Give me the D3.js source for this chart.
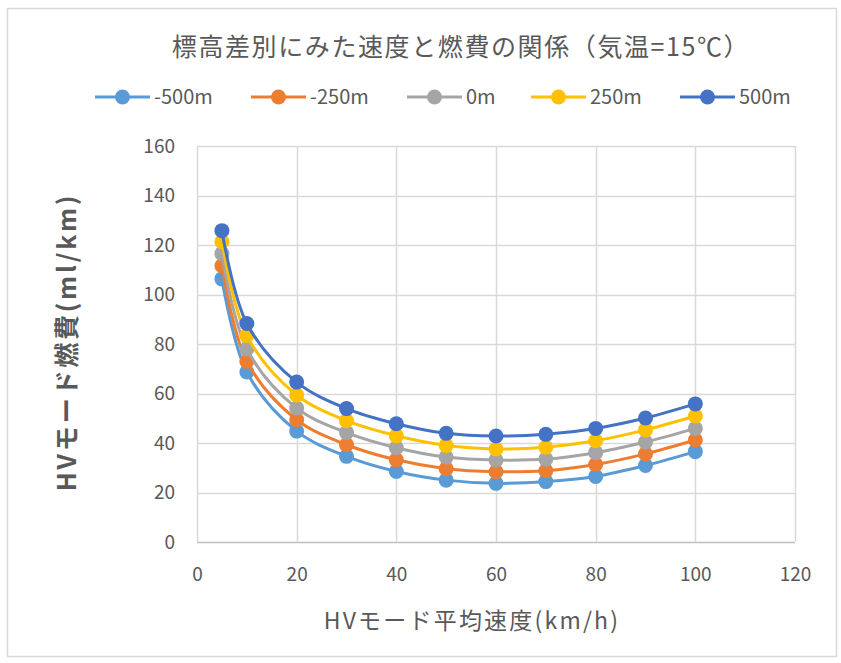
<!DOCTYPE html>
<html>
<head>
<meta charset="utf-8">
<script src="https://cdn.jsdelivr.net/npm/d3@7"></script>
<style>
  html, body { margin: 0; padding: 0; background: #fff; }
  svg { display: block; }
  text { font-family: "Liberation Sans Narrow", "Noto Sans CJK JP", sans-serif; fill: #595959; }
</style>
</head>
<body>
<svg id="chart" width="841" height="663"></svg>
<script>
// Average speed (km/h) at which fuel use was evaluated
const speeds = [5, 10, 20, 30, 40, 50, 60, 70, 80, 90, 100];

// Fuel consumption (ml/km) for each elevation difference
const seriesNames = ["-500m", "-250m", "0m", "250m", "500m"];
const elevMinus500 = [106.3, 68.7, 44.8, 34.6, 28.5, 25.0, 23.7, 24.4, 26.5, 30.9, 36.5];
const elevMinus250 = [111.6, 73.0, 49.4, 39.3, 33.2, 29.6, 28.4, 28.8, 31.3, 35.6, 41.2];
const elevZero     = [116.5, 78.0, 54.1, 44.2, 38.1, 34.3, 33.1, 33.5, 36.1, 40.4, 45.9];
const elevPlus250  = [121.3, 83.4, 59.4, 49.0, 42.9, 39.0, 37.6, 38.3, 40.9, 45.3, 50.9];
const elevPlus500  = [125.8, 88.3, 64.6, 53.9, 47.8, 43.9, 42.8, 43.5, 45.9, 50.1, 55.8];
const seriesColors = ["#5B9BD5", "#ED7D31", "#A5A5A5", "#FFC000", "#4472C4"];

const xTicks = [0, 20, 40, 60, 80, 100, 120];
const yTicks = [0, 20, 40, 60, 80, 100, 120, 140, 160];

const titleText = "標高差別にみた速度と燃費の関係（気温=15℃）";
const xTitle = "HVモード平均速度(km/h)";
const yTitle = "HVモード燃費(ml/km)";

const seriesValues = [elevMinus500, elevMinus250, elevZero, elevPlus250, elevPlus500];
const series = seriesNames.map((name, i) => ({
  name,
  color: seriesColors[i],
  points: speeds.map((s, j) => ({ x: s, y: seriesValues[i][j] }))
}));

const svg = d3.select("#chart");

// outer chart frame
svg.append("rect")
  .attr("x", 7.5).attr("y", 8.5)
  .attr("width", 829).attr("height", 648)
  .attr("fill", "#fff")
  .attr("stroke", "#d9d9d9").attr("stroke-width", 1.5);

const plot = { left: 197, right: 795, top: 146, bottom: 542 };

const x = d3.scaleLinear().domain([0, 120]).range([plot.left, plot.right]);
const y = d3.scaleLinear().domain([0, 160]).range([plot.bottom, plot.top]);

// gridlines
const grid = svg.append("g");
grid.selectAll("line.h").data(yTicks).join("line")
  .attr("x1", plot.left).attr("x2", plot.right)
  .attr("y1", d => Math.round(y(d)) + 0.5).attr("y2", d => Math.round(y(d)) + 0.5)
  .attr("stroke", d => d === 0 ? "#bfbfbf" : "#d9d9d9").attr("stroke-width", 1.5);
grid.selectAll("line.v").data(xTicks).join("line")
  .attr("y1", plot.top).attr("y2", plot.bottom)
  .attr("x1", d => Math.round(x(d)) + 0.5).attr("x2", d => Math.round(x(d)) + 0.5)
  .attr("stroke", "#d9d9d9").attr("stroke-width", 1.5);

// axes (labels only; gridlines drawn above)
const xAxis = svg.append("g")
  .attr("transform", `translate(0,${plot.bottom})`)
  .call(d3.axisBottom(x).tickValues(xTicks).tickSize(0).tickPadding(26));
xAxis.select(".domain").remove();
xAxis.selectAll("text").style("font-size", "19px").attr("fill", "#595959");

const yAxis = svg.append("g")
  .attr("transform", `translate(${plot.left},0)`)
  .call(d3.axisLeft(y).tickValues(yTicks).tickSize(0).tickPadding(22));
yAxis.select(".domain").remove();
yAxis.selectAll("text").style("font-size", "19px").attr("fill", "#595959");

// smoothed series lines and markers
const line = d3.line()
  .x(d => x(d.x)).y(d => y(d.y))
  .curve(d3.curveCatmullRom.alpha(0.5));

const sg = svg.append("g");
series.forEach(s => {
  const g = sg.append("g");
  g.append("path")
    .attr("d", line(s.points))
    .attr("fill", "none")
    .attr("stroke", s.color)
    .attr("stroke-width", 3);
  g.selectAll("circle").data(s.points).join("circle")
    .attr("cx", d => x(d.x)).attr("cy", d => y(d.y))
    .attr("r", 7.5)
    .attr("fill", s.color);
});

// title
svg.append("text")
  .attr("x", 461).attr("y", 56)
  .attr("text-anchor", "middle")
  .style("font-size", "25px")
  .style("letter-spacing", "1.6px")
  .text(titleText);

// legend
const legendX = [95, 251, 407, 531, 680];
const lg = svg.append("g");
series.forEach((s, i) => {
  const g = lg.append("g").attr("transform", `translate(${legendX[i]},97)`);
  g.append("line").attr("x1", 0).attr("x2", 55).attr("y1", 0).attr("y2", 0)
    .attr("stroke", s.color).attr("stroke-width", 3);
  g.append("circle").attr("cx", 27.5).attr("cy", 0).attr("r", 7.5).attr("fill", s.color);
  g.append("text").attr("x", 59).attr("y", 7)
    .style("font-size", "20px")
    .text(s.name);
});

// axis titles
svg.append("text")
  .attr("x", 472).attr("y", 629)
  .attr("text-anchor", "middle")
  .style("font-size", "23px")
  .style("letter-spacing", "2.2px")
  .text(xTitle);

svg.append("text")
  .attr("transform", "translate(76,342) rotate(-90)")
  .attr("text-anchor", "middle")
  .style("font-size", "25px")
  .style("letter-spacing", "2.8px")
  .style("font-weight", "bold")
  .text(yTitle);
</script>
</body>
</html>
